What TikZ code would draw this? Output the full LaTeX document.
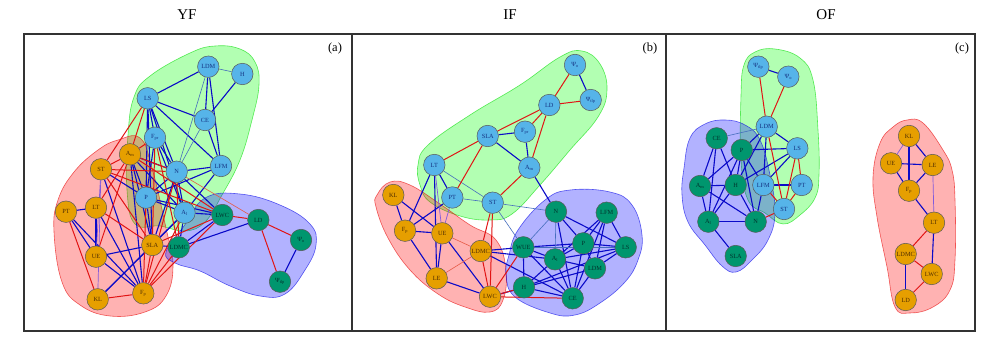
\documentclass[tikz,border=0pt]{standalone}
\usepackage{fontspec}
\setmainfont{Liberation Serif}
\pgfdeclarelayer{hulls}
\pgfdeclarelayer{edges}
\pgfsetlayers{hulls,edges,main}
\newcommand{\sbs}[1]{\textsubscript{#1}}
\begin{document}
\begin{tikzpicture}[x=1pt,y=-1pt,
  nd/.style={circle,minimum size=21.5pt,inner sep=0pt,draw=black!65,line width=0.5pt,font=\fontsize{6.3}{7}\selectfont},
  bn/.style={nd,fill={rgb,255:red,86;green,180;blue,233},text={rgb,255:red,20;green,50;blue,130}},
  on/.style={nd,fill={rgb,255:red,230;green,159;blue,0},text={rgb,255:red,80;green,45;blue,0}},
  gn/.style={nd,fill={rgb,255:red,0;green,150;blue,110},text={rgb,255:red,0;green,50;blue,45}},
  hg/.style={fill={rgb,255:red,0;green,255;blue,0},fill opacity=0.3,draw={rgb,255:red,0;green,220;blue,0},draw opacity=0.6,line width=0.6pt},
  hr/.style={fill={rgb,255:red,255;green,0;blue,0},fill opacity=0.3,draw={rgb,255:red,230;green,0;blue,0},draw opacity=0.6,line width=0.6pt},
  hb/.style={fill={rgb,255:red,0;green,0;blue,255},fill opacity=0.3,draw={rgb,255:red,0;green,0;blue,230},draw opacity=0.6,line width=0.6pt},
  eb/.style={draw={rgb,255:red,10;green,10;blue,200},line width=1.1pt},
  er/.style={draw={rgb,255:red,225;green,20;blue,20},line width=1.0pt},
  ebt/.style={draw={rgb,255:red,70;green,110;blue,190},line width=0.6pt},
  ert/.style={draw={rgb,255:red,230;green,90;blue,70},line width=0.6pt},
  ep/.style={draw={rgb,255:red,130;green,90;blue,220},line width=0.7pt},
  ttl/.style={font=\fontsize{15}{17}\selectfont},
  lbl/.style={font=\fontsize{12.5}{14}\selectfont}]
\useasboundingbox (0,0) rectangle (1000,358);
\begin{pgfonlayer}{hulls}
\fill[white] (0,0) rectangle (1000,358);
\end{pgfonlayer}
% titles and frame
\node[ttl] (tYF) at (187,15) {YF};
\node[ttl] (tIF) at (510,15) {IF};
\node[ttl] (tOF) at (826,15) {OF};
\draw[line width=1.2pt,black!80] (24,34) rectangle (975,331);
\draw[line width=1.2pt,black!80] (352,34) -- (352,331);
\draw[line width=1.2pt,black!80] (666,34) -- (666,331);
\node[lbl] (la) at (335,48) {(a)};
\node[lbl] (lb) at (650,48) {(b)};
\node[lbl] (lc) at (962,48) {(c)};

% ================= hulls
\begin{pgfonlayer}{hulls}
% (a)
\path[hg] plot[smooth cycle,tension=0.7] coordinates {(128,135) (134,97) (150,76) (190,53) (215,46) (240,49) (255,62) (259,85) (252,120) (240,160) (222,195) (205,222) (185,231) (160,226) (135,224) (127,190)};
\path[hr] plot[smooth cycle,tension=0.7] coordinates {(118,140) (140,138) (152,168) (166,228) (173,265) (166,296) (145,312) (110,316) (80,305) (62,282) (54,232) (58,200) (74,172) (98,150)};
\path[hb] plot[smooth cycle,tension=0.7] coordinates {(166,252) (184,226) (205,198) (240,194) (280,205) (310,224) (316,245) (305,270) (285,294) (260,296) (230,286) (200,271) (175,263)};
% (b)
\path[hg] plot[smooth cycle,tension=0.7] coordinates {(418,165) (428,145) (470,115) (520,85) (560,57) (582,51) (600,64) (607,90) (598,117) (570,150) (540,185) (512,214) (490,220) (460,216) (430,202) (420,185)};
\path[hr] plot[smooth cycle,tension=0.7] coordinates {(377,195) (390,182) (410,185) (440,204) (470,225) (496,240) (506,270) (503,300) (490,312) (465,307) (438,294) (410,270) (388,238) (376,207)};
\path[hb] plot[smooth cycle,tension=0.7] coordinates {(509,255) (518,230) (545,200) (570,190) (610,192) (632,205) (642,235) (638,260) (625,282) (600,303) (575,315) (550,313) (515,297) (506,275)};
% (c)
\path[hg] plot[smooth cycle,tension=0.7] coordinates {(741,95) (744,65) (755,52) (775,49) (800,58) (813,80) (818,130) (819,175) (815,198) (800,215) (783,224) (765,213) (748,200) (741,160)};
\path[hb] plot[smooth cycle,tension=0.7] coordinates {(684,168) (690,138) (705,124) (725,120) (745,125) (760,140) (770,175) (775,213) (768,240) (752,260) (736,272) (722,266) (705,245) (688,222) (682,195)};
\path[hr] plot[smooth cycle,tension=0.7] coordinates {(880,143) (893,127) (907,120) (923,123) (943,150) (952,170) (955,200) (955,260) (950,290) (933,307) (910,313) (895,307) (887,267) (877,217) (873,177)};
\end{pgfonlayer}

% ================= panel (a) nodes
\node[bn] (aLS) at (147.7,98.3) {LS};
\node[bn] (aLDM) at (208.3,66.7) {LDM};
\node[bn] (aH) at (242.3,74) {H};
\node[bn] (aCE) at (205,120) {CE};
\node[bn] (aLFM) at (221,166) {LFM};
\node[bn] (aFpr) at (155,137.7) {F\sbs{pr}};
\node[bn] (aN) at (176.7,171.7) {N};
\node[bn] (aP) at (146,197.7) {P};
\node[bn] (aAl) at (184.5,212.7) {A\sbs{l}};
\node[on] (aAm) at (130,154.3) {A\sbs{m}};
\node[on] (aST) at (101,169.3) {ST};
\node[on] (aPT) at (66,211.7) {PT};
\node[on] (aLT) at (96,207.7) {LT};
\node[on] (aUE) at (96,256.7) {UE};
\node[on] (aKL) at (97.7,299.3) {KL};
\node[on] (aFp) at (143.3,293.3) {F\sbs{p}};
\node[on] (aSLA) at (152.3,245) {SLA};
\node[gn] (aLDMC) at (178.8,247.3) {LDMC};
\node[gn] (aLWC) at (222.3,215) {LWC};
\node[gn] (aLD) at (258.3,220) {LD};
\node[gn] (aPsio) at (301,240) {Ψ\sbs{o}};
\node[gn] (aPsit) at (280,281.7) {Ψ\sbs{tlp}};

% ================= panel (b) nodes
\node[bn] (bPsio) at (575,65) {Ψ\sbs{o}};
\node[bn] (bLD) at (549.3,105) {LD};
\node[bn] (bPsit) at (590.7,100) {Ψ\sbs{tlp}};
\node[bn] (bFpr) at (525,131.7) {F\sbs{pr}};
\node[bn] (bAm) at (529.3,167.7) {A\sbs{m}};
\node[bn] (bSLA) at (487.7,136) {SLA};
\node[bn] (bLT) at (434.3,165) {LT};
\node[bn] (bPT) at (452.3,197.5) {PT};
\node[bn] (bST) at (492.7,202.7) {ST};
\node[on] (bKL) at (393.3,195) {KL};
\node[on] (bFp) at (405,230.7) {F\sbs{p}};
\node[on] (bUE) at (442.3,233.3) {UE};
\node[on] (bLDMC) at (480.7,251) {LDMC};
\node[on] (bLE) at (436.7,278.3) {LE};
\node[on] (bLWC) at (490,296.7) {LWC};
\node[gn] (bN) at (556,211.7) {N};
\node[gn] (bLFM) at (606.7,212.7) {LFM};
\node[gn] (bWUE) at (523.3,247.3) {WUE};
\node[gn] (bP) at (583.3,243.3) {P};
\node[gn] (bLS) at (625.7,247.3) {LS};
\node[gn] (bAl) at (555,259.3) {A\sbs{l}};
\node[gn] (bLDM) at (595,268.3) {LDM};
\node[gn] (bH) at (524,287.3) {H};
\node[gn] (bCE) at (572.7,298.3) {CE};

% ================= panel (c) nodes
\node[bn] (cPsit) at (758.3,66.7) {Ψ\sbs{tlp}};
\node[bn] (cPsio) at (788.3,76.7) {Ψ\sbs{o}};
\node[bn] (cLDM) at (766.7,126.7) {LDM};
\node[bn] (cLS) at (797.3,148.3) {LS};
\node[bn] (cLFM) at (763.3,185) {LFM};
\node[bn] (cPT) at (801.7,185) {PT};
\node[bn] (cST) at (784,209) {ST};
\node[gn] (cCE) at (716.7,138.3) {CE};
\node[gn] (cP) at (741.7,150) {P};
\node[gn] (cAm) at (700,186) {A\sbs{m}};
\node[gn] (cH) at (735.7,185) {H};
\node[gn] (cAl) at (708.3,221.7) {A\sbs{l}};
\node[gn] (cN) at (755.7,221.7) {N};
\node[gn] (cSLA) at (735.7,256) {SLA};
\node[on] (cKL) at (909,136) {KL};
\node[on] (cUE) at (891,163.3) {UE};
\node[on] (cLE) at (932.7,165) {LE};
\node[on] (cFp) at (909,190.7) {F\sbs{p}};
\node[on] (cLT) at (934,222.7) {LT};
\node[on] (cLDMC) at (905.7,254) {LDMC};
\node[on] (cLWC) at (931.7,274) {LWC};
\node[on] (cLD) at (905.7,300) {LD};

% ================= edges
\begin{pgfonlayer}{edges}
% ---- (a)
\foreach \u/\v in {aLS/aLDM,aLS/aCE,aLS/aLFM,aLS/aFpr,aLS/aN,aLS/aP,aLS/aAl,aLS/aSLA,
  aLDM/aCE,aLDM/aLFM,aH/aCE,aCE/aLFM,aLFM/aN,aLFM/aAl,aLFM/aP,
  aFpr/aN,aFpr/aP,aFpr/aAl,aN/aP,aN/aAl,aN/aAm,aN/aSLA,aP/aAl,aP/aAm,aP/aSLA,
  aAl/aSLA,aAl/aLDMC,aAl/aLWC,aP/aLWC,aN/aLWC,aLDMC/aLD,aPsio/aPsit,
  aST/aFp,aPT/aUE,aPT/aFp,aLT/aUE,aLT/aFp,aUE/aFp,aUE/aSLA,aKL/aSLA,aAm/aSLA,
  aST/aP,aAm/aAl,aAm/aFp,aPT/aLT,aLDMC/aLWC,aSLA/aLDMC,aKL/aAl}
  \draw[eb] (\u) -- (\v);
\foreach \u/\v in {aLDM/aH,aLDM/aN,aCE/aN}
  \draw[ebt] (\u) -- (\v);
\foreach \u/\v in {aLS/aAm,aLS/aST,aFpr/aAm,aFpr/aSLA,aST/aAm,aST/aSLA,aST/aN,
  aAm/aLT,aAm/aUE,aPT/aKL,aLT/aSLA,aKL/aFp,aFp/aSLA,aFp/aN,aFp/aAl,aFp/aLDMC,
  aFp/aLWC,aSLA/aLWC,aN/aLDMC,aLWC/aLD,aLD/aPsio,aLD/aPsit,aP/aFp,aAm/aLWC,
  aST/aLWC,aAm/aN,aFpr/aLDMC}
  \draw[er] (\u) -- (\v);
\foreach \u/\v in {aN/aLD}
  \draw[ert] (\u) -- (\v);
\foreach \u/\v in {aST/aKL,aST/aUE}
  \draw[ep] (\u) -- (\v);
% ---- (b)
\foreach \u/\v in {bPsio/bPsit,bSLA/bFpr,bSLA/bAm,bFpr/bAm,bAm/bN,bLT/bPT,bLT/bFp,
  bPT/bFp,bKL/bFp,bKL/bUE,bFp/bUE,bFp/bLE,bUE/bLE,bUE/bLWC,bLE/bLWC,
  bLDMC/bWUE,bLDMC/bAl,bLDMC/bCE,bLWC/bLDM,
  bN/bP,bN/bLS,bN/bCE,bLFM/bP,bLFM/bLS,bLFM/bLDM,bLFM/bAl,bLFM/bCE,
  bWUE/bP,bWUE/bAl,bWUE/bH,bWUE/bCE,bP/bAl,bP/bLS,bP/bLDM,bP/bCE,
  bLS/bAl,bLS/bLDM,bLS/bH,bAl/bH,bAl/bCE,bAl/bLDM,bLDM/bCE,bH/bCE,bLT/bLE}
  \draw[eb] (\u) -- (\v);
\foreach \u/\v in {bLT/bST,bPT/bST,bST/bN,bST/bWUE,bN/bWUE,bN/bAl,bLS/bWUE}
  \draw[ebt] (\u) -- (\v);
\foreach \u/\v in {bPsio/bLD,bLD/bPsit,bLD/bFpr,bLD/bAm,bLD/bSLA,bSLA/bLT,bSLA/bPT,
  bAm/bST,bST/bLDMC,bST/bLWC,bLDMC/bLWC,bLWC/bWUE,bLWC/bCE,bLWC/bH}
  \draw[er] (\u) -- (\v);
\foreach \u/\v in {bUE/bLDMC,bLE/bLDMC}
  \draw[ert] (\u) -- (\v);
\foreach \u/\v in {bPT/bUE,bLT/bUE}
  \draw[ep] (\u) -- (\v);
% ---- (c)
\foreach \u/\v in {cPsit/cPsio,cLDM/cP,cLDM/cLS,cLDM/cH,cLDM/cLFM,cP/cH,cP/cAm,cP/cAl,
  cP/cLS,cP/cLFM,cP/cN,cCE/cAm,cCE/cH,cCE/cAl,cLS/cLFM,cLS/cH,cH/cAm,cH/cAl,cH/cN,
  cAm/cAl,cAm/cN,cAl/cN,cAl/cSLA,cN/cLFM,cLFM/cPT,
  cKL/cLE,cKL/cFp,cUE/cLE,cUE/cFp,cLE/cFp,cFp/cLT,cLT/cLWC,cLDMC/cLD}
  \draw[eb] (\u) -- (\v);
\foreach \u/\v in {cLDM/cCE}
  \draw[ebt] (\u) -- (\v);
\foreach \u/\v in {cPsit/cLDM,cPsio/cLDM,cLDM/cST,cLS/cPT,cLS/cST,cN/cST,cLFM/cST,
  cPT/cST,cLT/cLDMC,cLDMC/cLWC,cLWC/cLD}
  \draw[er] (\u) -- (\v);
\foreach \u/\v in {cKL/cUE,cLE/cLT}
  \draw[ep] (\u) -- (\v);
\end{pgfonlayer}
\end{tikzpicture}
\end{document}
